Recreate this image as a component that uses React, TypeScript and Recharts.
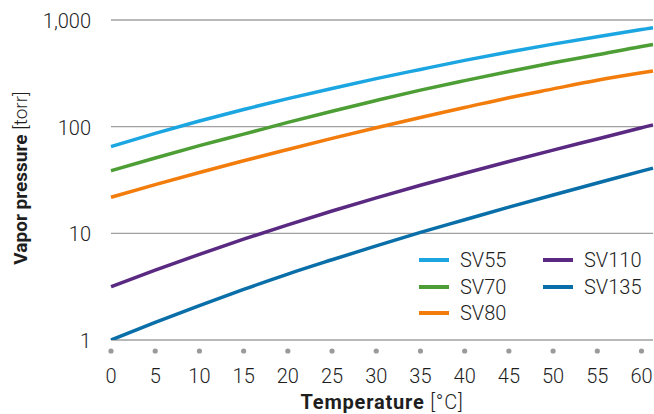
import React from "react";
import { LineChart, Line, XAxis, YAxis, CartesianGrid, Legend } from "recharts";

// temperature in °C, vapor pressure in torr
const temps = [0, 5, 10, 15, 20, 25, 30, 35, 40, 45, 50, 55, 60, 61.3];
const sv55 = [65, 86.5, 113, 145, 183, 228, 282, 344, 418, 501, 594, 698, 813, 845];
const sv70 = [38.6, 50.9, 66.4, 85.1, 109.6, 139.6, 176, 220, 270, 329, 397, 472, 565, 589];
const sv80 = [21.8, 28.6, 37.2, 47.9, 61.1, 77.6, 97.7, 122, 151, 187, 226, 272, 320, 333];
const sv110 = [3.16, 4.52, 6.35, 8.81, 12.0, 16.2, 21.5, 28.2, 36.6, 47.1, 60.3, 76.7, 97.7, 104];
const sv135 = [1.0, 1.46, 2.1, 2.98, 4.15, 5.65, 7.64, 10.2, 13.4, 17.6, 22.9, 29.6, 38.3, 40.9];

const xTicks = [0, 5, 10, 15, 20, 25, 30, 35, 40, 45, 50, 55, 60];
const yTicks = [1, 10, 100, 1000];

const series = [
  { key: "SV55", values: sv55, color: "#1ba6e1" },
  { key: "SV70", values: sv70, color: "#4c9e35" },
  { key: "SV80", values: sv80, color: "#f27c0c" },
  { key: "SV110", values: sv110, color: "#5a2a82" },
  { key: "SV135", values: sv135, color: "#0a6fa8" },
];

const data = temps.map((t, i) => {
  const row: Record<string, number> = { t };
  series.forEach((s) => (row[s.key] = s.values[i]));
  return row;
});

const FONT = 'Roboto, "Liberation Sans", Arial, sans-serif';
const TEXT = "#1e1e1e";

// eslint-disable-next-line @typescript-eslint/no-explicit-any
function XTick({ x, y, payload }: any) {
  return (
    <g>
      <circle cx={x} cy={y + 11} r={2.6} fill="#9a9a9a" />
      <text x={x} y={y + 43} textAnchor="middle" fontSize={20} fontWeight={300} fill={TEXT} fontFamily={FONT}>
        {payload.value}
      </text>
    </g>
  );
}

// eslint-disable-next-line @typescript-eslint/no-explicit-any
function YTick({ x, y, payload }: any) {
  return (
    <text x={x - 20} y={y + 8} textAnchor="end" fontSize={20} fontWeight={300} fill={TEXT} fontFamily={FONT}>
      {Number(payload.value).toLocaleString("en-US")}
    </text>
  );
}

function XTitle() {
  return (
    <text x={382} y={409} textAnchor="middle" fontSize={20} letterSpacing={0.8} fill={TEXT} fontFamily={FONT}>
      <tspan fontWeight={700}>Temperature</tspan>
      <tspan fontWeight={300}> [°C]</tspan>
    </text>
  );
}

function YTitle() {
  return (
    <text
      x={0}
      y={0}
      transform="translate(27,178) rotate(-90)"
      textAnchor="middle"
      fontSize={19}
      fill={TEXT}
      fontFamily={FONT}
    >
      <tspan fontWeight={700}>Vapor pressure</tspan>
      <tspan fontWeight={300}> [torr]</tspan>
    </text>
  );
}

// eslint-disable-next-line @typescript-eslint/no-explicit-any
function LegendBox({ payload }: any) {
  const items = series
    .map((s) => (payload || []).find((p: { value: string }) => p.value === s.key))
    .filter(Boolean);
  return (
    <div
      style={{
        display: "grid",
        gridTemplateRows: "repeat(3, 26.5px)",
        gridTemplateColumns: "124px 100px",
        gridAutoFlow: "column",
        fontFamily: FONT,
        fontWeight: 300,
        fontSize: 20,
        color: TEXT,
      }}
    >
      {items.map((p: { value: string; color: string }) => (
        <div key={p.value} style={{ display: "flex", alignItems: "center" }}>
          <span style={{ width: 30, height: 4, background: p.color, marginRight: 11 }} />
          <span>{p.value}</span>
        </div>
      ))}
    </div>
  );
}

export default function App() {
  return (
    <div style={{ position: "absolute", left: 0, top: 0 }}>
      <LineChart width={654} height={414} data={data} margin={{ top: 20, right: 1, bottom: 20, left: 0 }}>
        <CartesianGrid vertical={false} stroke="#a0a0a0" strokeWidth={1.4} />
        <XAxis
          dataKey="t"
          type="number"
          domain={[0, 61.3]}
          ticks={xTicks}
          axisLine={false}
          tickLine={false}
          tickSize={0}
          tickMargin={0}
          height={54}
          tick={<XTick />}
          label={<XTitle />}
          interval={0}
        />
        <YAxis
          scale="log"
          domain={[1, 1000]}
          ticks={yTicks}
          axisLine={false}
          tickLine={false}
          tickSize={0}
          tickMargin={0}
          width={111}
          tick={<YTick />}
          label={<YTitle />}
          interval={0}
          allowDataOverflow
        />
        <Legend
          layout="horizontal"
          verticalAlign="middle"
          align="center"
          content={<LegendBox />}
          wrapperStyle={{ position: "absolute", left: 419, top: 247, width: 240 }}
        />
        {series.map((s) => (
          <Line
            key={s.key}
            type="monotone"
            dataKey={s.key}
            name={s.key}
            stroke={s.color}
            strokeWidth={3.5}
            dot={false}
            isAnimationActive={false}
          />
        ))}
      </LineChart>
    </div>
  );
}
